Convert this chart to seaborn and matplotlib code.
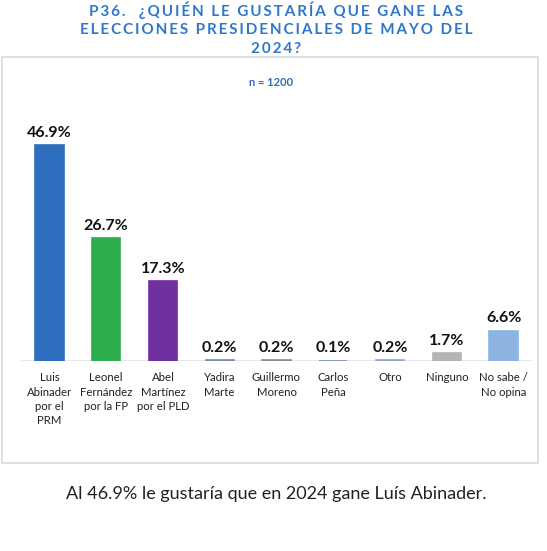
import matplotlib
matplotlib.use("Agg")
import matplotlib.pyplot as plt
import seaborn as sns
import pandas as pd
from matplotlib.patches import Rectangle

# chart data
categories = ["Luis\nAbinader\npor el\nPRM", "Leonel\nFernández\npor la FP", "Abel\nMartínez\npor el PLD",
              "Yadira\nMarte", "Guillermo\nMoreno", "Carlos\nPeña", "Otro", "Ninguno", "No sabe /\nNo opina"]
values = [46.9, 26.7, 17.3, 0.2, 0.2, 0.1, 0.2, 1.7, 6.6]
colors = ["#2E6EBF", "#2EAD4F", "#7030A0", "#7C8BA6", "#8C8C8C", "#7A8CAB", "#8FA6D3", "#B4B4B4", "#8DB3E2"]

df = pd.DataFrame({"cat": categories, "val": values})

sns.set_style("white")
plt.rcParams["font.family"] = ["Lato", "DejaVu Sans"]

fig = plt.figure(figsize=(5.47, 5.51), dpi=100)

# outer frame around the chart
fig.patches.append(Rectangle((2 / 547, 88 / 551), 536 / 547, 406 / 551, transform=fig.transFigure,
                             fill=False, edgecolor="#D9D9D9", linewidth=1.2))

ax = fig.add_axes([21 / 547, 190 / 551, 511 / 547, 253 / 551])
sns.barplot(data=df, x="cat", y="val", hue="cat", palette=colors, legend=False,
            width=0.5, ax=ax, saturation=1)
for bar, c in zip(ax.patches, colors):
    bar.set_edgecolor(c)
    bar.set_linewidth(1.2)
ax.set_xlim(-0.5, 8.5)
ax.set_ylim(0, 55)
ax.axhline(0, xmin=0, xmax=0.996, color="#E3E6EE", linewidth=2, zorder=0)

for i, v in enumerate(values):
    ax.annotate(f"{v}%", (i, v), xytext=(0, 4), textcoords="offset points",
                ha="center", va="bottom", fontsize=11.5, fontweight="bold", color="#111111")

ax.set_yticks([])
ax.set_xlabel("")
ax.set_ylabel("")
ax.tick_params(axis="x", length=0, pad=8, labelsize=8.2, labelcolor="#222222")
for lab in ax.get_xticklabels():
    lab.set_linespacing(1.38)
for s in ax.spines.values():
    s.set_visible(False)

# titles (letter-spaced)
title_lines = ["P36.  ¿QUIÉN LE GUSTARÍA QUE GANE LAS", "ELECCIONES PRESIDENCIALES DE MAYO DEL", "2024?"]
for k, line in enumerate(title_lines):
    fig.text(276 / 547, 1 - (10 + 19.5 * k) / 551, "\u2009".join(line), ha="center", va="center",
             fontsize=11, fontweight="bold", color="#2F77C9")
fig.text(271 / 547, 1 - 82 / 551, "n = 1200", ha="center", va="center",
         fontsize=8, fontweight="bold", color="#2F6DB5")

fig.text(276 / 547, 1 - 494 / 551, "Al 46.9% le gustaría que en 2024 gane Luís Abinader.",
         ha="center", va="center", fontsize=13, color="#222222")

fig.savefig("out.png", dpi=100)
